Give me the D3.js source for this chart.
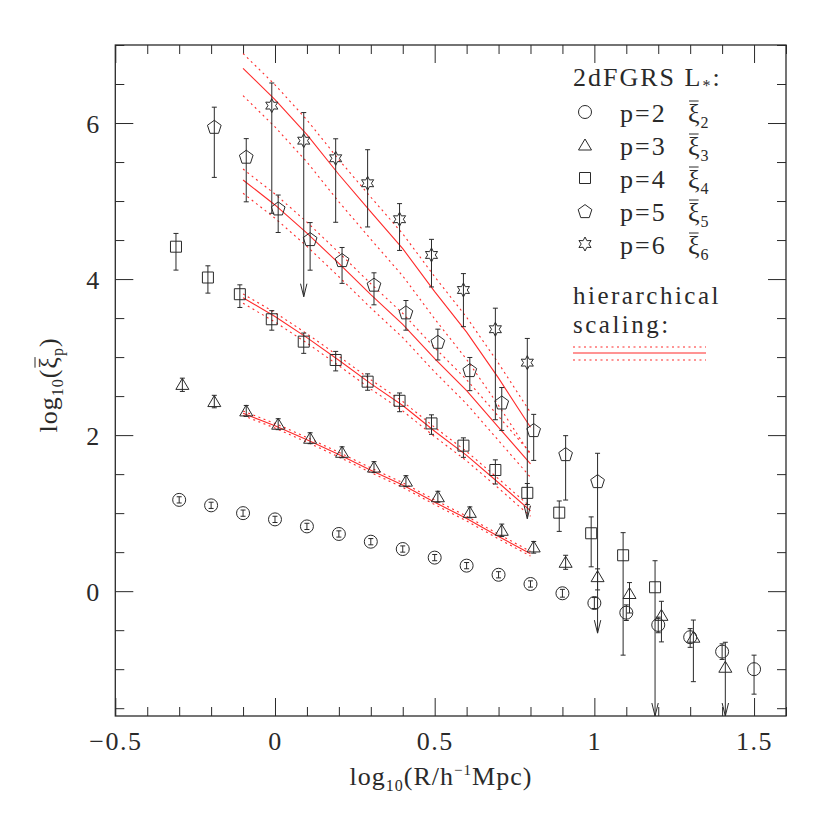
<!DOCTYPE html>
<html><head><meta charset="utf-8">
<script src="https://cdn.jsdelivr.net/npm/d3@7"></script>
<style>body{margin:0;background:#fff}</style>
</head><body><svg id="c" width="830" height="830"></svg>
<script>
// ---------------- data ----------------
const p2X  = [-0.3,-0.2,-0.1,0.0,0.1,0.2,0.3,0.4,0.5,0.6,0.7,0.8,0.9,1.0,1.1,1.2,1.3,1.4,1.5];
const p2Y  = [1.17,1.10,1.00,0.92,0.83,0.733,0.634,0.54,0.43,0.327,0.21,0.092,-0.027,-0.152,-0.276,-0.433,-0.59,-0.775,-1.0];
const p2Hi = [0.04,0.04,0.04,0.04,0.04,0.04,0.04,0.04,0.04,0.04,0.04,0.04,0.05,0.07,0.10,0.10,0.11,0.10,0.18];
const p2Lo = [0.04,0.04,0.04,0.04,0.04,0.04,0.04,0.04,0.04,0.04,0.04,0.04,0.05,0.07,0.10,0.10,0.13,0.10,0.32];
const p2Arrow = [0,0,0,0,0,0,0,0,0,0,0,0,0,0,0,0,0,0,0];

const p3X  = [-0.29,-0.19,-0.09,0.01,0.11,0.21,0.31,0.41,0.51,0.61,0.71,0.81,0.91,1.01,1.11,1.21,1.31,1.41];
const p3Y  = [2.65,2.43,2.31,2.14,1.96,1.78,1.59,1.41,1.21,1.01,0.78,0.567,0.37,0.186,-0.03,-0.31,-0.59,-0.975];
const p3Hi = [0.08,0.08,0.07,0.07,0.07,0.07,0.07,0.07,0.07,0.07,0.08,0.07,0.09,0.10,0.14,0.18,0.22,0.32];
const p3Lo = [0.09,0.08,0.07,0.07,0.07,0.07,0.07,0.07,0.07,0.07,0.08,0.08,0.09,0.17,0.25,0.34,0.57,0.625];
const p3Arrow = [0,0,0,0,0,0,0,0,0,0,0,0,0,0,0,0,0,1];

const p4X  = [-0.31,-0.21,-0.11,-0.01,0.09,0.19,0.29,0.39,0.49,0.59,0.69,0.79,0.89,0.99,1.09,1.19];
const p4Y  = [4.415,4.02,3.806,3.485,3.198,2.963,2.685,2.44,2.15,1.865,1.553,1.26,1.006,0.742,0.46,0.05];
const p4Hi = [0.17,0.15,0.12,0.11,0.11,0.11,0.10,0.10,0.11,0.10,0.13,0.12,0.15,0.21,0.29,0.34];
const p4Lo = [0.30,0.20,0.17,0.14,0.15,0.14,0.11,0.14,0.14,0.15,0.18,0.15,0.24,0.43,1.28,1.65];
const p4Arrow = [0,0,0,0,0,0,0,0,0,0,0,0,0,0,0,1];

const p5X  = [-0.19,-0.09,0.01,0.11,0.21,0.31,0.41,0.51,0.61,0.71,0.81,0.91,1.01];
const p5Y  = [5.953,5.57,4.907,4.514,4.245,3.93,3.575,3.198,2.835,2.42,2.066,1.758,1.412];
const p5Hi = [0.25,0.23,0.17,0.21,0.16,0.15,0.15,0.16,0.16,0.19,0.20,0.235,0.355];
const p5Lo = [0.65,0.58,0.31,0.40,0.30,0.26,0.23,0.235,0.265,0.36,0.39,0.59,1.95];
const p5Arrow = [0,0,0,0,0,0,0,0,0,0,0,0,1];

const p6X  = [-0.01,0.09,0.19,0.29,0.39,0.49,0.59,0.69,0.79];
const p6Y  = [6.223,5.774,5.548,5.228,4.767,4.309,3.86,3.357,2.929];
const p6Hi = [0.29,0.36,0.25,0.43,0.20,0.20,0.21,0.27,0.31];
const p6Lo = [1.38,2.0,0.82,0.56,0.40,0.41,0.47,1.16,2.0];
const p6Arrow = [0,1,0,0,0,0,0,0,1];

// hierarchical scaling model curves
const modelX  = [-0.1,0.0,0.1,0.2,0.3,0.4,0.5,0.6,0.7,0.8];
const model3  = [2.28,2.12,1.94,1.75,1.55,1.36,1.14,0.93,0.70,0.48];
const model4  = [3.76,3.52,3.25,2.96,2.66,2.38,2.05,1.74,1.39,1.03];
const model5  = [5.27,4.95,4.59,4.20,3.80,3.42,2.98,2.57,2.10,1.63];
const model6  = [6.70,6.30,5.85,5.34,4.86,4.39,3.84,3.32,2.73,2.10];
const bandUp   = [0.03,0.05,0.14,0.19];
const bandDown = [0.03,0.07,0.17,0.35];

const xMajor = [-0.5,0,0.5,1,1.5];
const xMajorLabels = ["\u22120.5","0","0.5","1","1.5"];
const yMajor = [0,2,4,6];
const yMajorLabels = ["0","2","4","6"];

const legendP = ["2","3","4","5","6"];

// ---------------- drawing ----------------
const svg = d3.select("#c");
const L = 115.3, R = 786, T = 45, B = 716;
const x = d3.scaleLinear().domain([-0.5,1.6]).range([L,R]);
const y = d3.scaleLinear().domain([-1.6,7]).range([B,T]);
const ink = "#2a2a2a";
const FONT = "Liberation Serif, DejaVu Serif, serif";

const xMinor = d3.range(-0.5,1.6001,0.1).filter(v => !xMajor.some(m => Math.abs(m-v)<1e-6));
const yMinor = d3.range(-1.5,7.0001,0.5).filter(v => !yMajor.some(m => Math.abs(m-v)<1e-6));

function tickAxis(axisFn, scale, vals, size, transform){
  const g = svg.append("g").attr("transform", transform)
    .call(axisFn(scale).tickValues(vals).tickSize(size).tickFormat(""));
  g.select(".domain").remove();
  g.selectAll("line").attr("stroke", ink).attr("stroke-width",1);
  return g;
}
tickAxis(d3.axisTop, x, xMajor, 18, `translate(0,${B})`);
tickAxis(d3.axisTop, x, xMinor, 9, `translate(0,${B})`);
tickAxis(d3.axisBottom, x, xMajor, 18, `translate(0,${T})`);
tickAxis(d3.axisBottom, x, xMinor, 9, `translate(0,${T})`);
tickAxis(d3.axisRight, y, yMajor, 18, `translate(${L},0)`);
tickAxis(d3.axisRight, y, yMinor, 9, `translate(${L},0)`);
tickAxis(d3.axisLeft, y, yMajor, 18, `translate(${R},0)`);
tickAxis(d3.axisLeft, y, yMinor, 9, `translate(${R},0)`);

svg.append("rect").attr("x",L).attr("y",T).attr("width",R-L).attr("height",B-T)
  .attr("fill","none").attr("stroke",ink).attr("stroke-width",1.3);

const gxl = svg.append("g").attr("transform",`translate(0,${B})`)
  .call(d3.axisBottom(x).tickValues(xMajor).tickSize(0).tickPadding(0)
        .tickFormat((d,i)=>xMajorLabels[i]));
gxl.select(".domain").remove();
gxl.selectAll("text").attr("font-family",FONT).attr("font-size",26)
  .attr("fill",ink).attr("dy",null).attr("y",34).attr("letter-spacing",1.5);

const gyl = svg.append("g").attr("transform",`translate(${L},0)`)
  .call(d3.axisLeft(y).tickValues(yMajor).tickSize(0).tickPadding(0)
        .tickFormat((d,i)=>yMajorLabels[i]));
gyl.select(".domain").remove();
gyl.selectAll("text").attr("font-family",FONT).attr("font-size",26)
  .attr("fill",ink).attr("dy",null).attr("x",-16).attr("y",9);

const xt = svg.append("text").attr("x",441).attr("y",785).attr("text-anchor","middle")
  .attr("font-family",FONT).attr("font-size",26).attr("fill",ink).attr("letter-spacing",1);
xt.append("tspan").text("log");
xt.append("tspan").attr("font-size",16).attr("dy",6).text("10");
xt.append("tspan").attr("dy",-6).text("(R/h");
xt.append("tspan").attr("font-size",15).attr("dy",-10).text("\u22121");
xt.append("tspan").attr("dy",10).text("Mpc)");

const yg = svg.append("g").attr("transform","translate(57,385) rotate(-90)");
const yt = yg.append("text").attr("x",0).attr("y",0).attr("text-anchor","middle")
  .attr("font-family",FONT).attr("font-size",26).attr("fill",ink).attr("letter-spacing",1);
yt.append("tspan").text("log");
yt.append("tspan").attr("font-size",16).attr("dy",6).text("10");
yt.append("tspan").attr("dy",-6).text("(");
yt.append("tspan").text("\u03BE");
yt.append("tspan").attr("font-size",16).attr("dy",6).text("p");
yt.append("tspan").attr("dy",-6).text(")");
{
  const ext = yt.node().getExtentOfChar(6);
  yg.append("line").attr("x1",ext.x+1).attr("x2",ext.x+ext.width-1)
    .attr("y1",ext.y+1).attr("y2",ext.y+1).attr("stroke",ink).attr("stroke-width",1);
}

function symPath(type){
  const p = d3.path();
  if(type==="circle"){ p.arc(0,0,6.5,0,2*Math.PI); p.closePath(); }
  else if(type==="triangle"){ p.moveTo(0,-6); p.lineTo(6.5,5); p.lineTo(-6.5,5); p.closePath(); }
  else if(type==="square"){ p.rect(-5.5,-5.5,11,11); }
  else if(type==="pentagon"){
    for(let k=0;k<5;k++){ const a=-Math.PI/2+k*2*Math.PI/5; const px=7.2*Math.cos(a), py=7.2*Math.sin(a)+0.8;
      k===0?p.moveTo(px,py):p.lineTo(px,py);} p.closePath(); }
  else if(type==="star"){
    for(let k=0;k<12;k++){ const a=-Math.PI/2+k*Math.PI/6; const r=k%2===0?7:3.8;
      const px=r*Math.cos(a), py=r*Math.sin(a); k===0?p.moveTo(px,py):p.lineTo(px,py);} p.closePath(); }
  return p.toString();
}

const red = "#ff2a2a";
const models = [model3, model4, model5, model6];
const line = d3.line().x(d=>x(d[0])).y(d=>y(d[1]));
const gm = svg.append("g");
models.forEach((m,i)=>{
  const c = modelX.map((xx,j)=>[xx,m[j]]);
  const up = modelX.map((xx,j)=>[xx,m[j]+bandUp[i]]);
  const dn = modelX.map((xx,j)=>[xx,m[j]-bandDown[i]]);
  gm.append("path").attr("d",line(c)).attr("fill","none").attr("stroke",red).attr("stroke-width",1.1);
  [up,dn].forEach(pts=>gm.append("path").attr("d",line(pts)).attr("fill","none")
    .attr("stroke",red).attr("stroke-width",1.1).attr("stroke-dasharray","2,3.5"));
});

const series = [
  {X:p2X,Y:p2Y,Hi:p2Hi,Lo:p2Lo,A:p2Arrow,sym:"circle"},
  {X:p3X,Y:p3Y,Hi:p3Hi,Lo:p3Lo,A:p3Arrow,sym:"triangle"},
  {X:p4X,Y:p4Y,Hi:p4Hi,Lo:p4Lo,A:p4Arrow,sym:"square"},
  {X:p5X,Y:p5Y,Hi:p5Hi,Lo:p5Lo,A:p5Arrow,sym:"pentagon"},
  {X:p6X,Y:p6Y,Hi:p6Hi,Lo:p6Lo,A:p6Arrow,sym:"star"}
];
const gd = svg.append("g").attr("stroke",ink).attr("stroke-width",1).attr("fill","none");
series.forEach(s=>{
  s.X.forEach((xx,i)=>{
    const cx = x(xx), cy = y(s.Y[i]);
    const yt = y(s.Y[i]+s.Hi[i]), yb = y(s.Y[i]-s.Lo[i]);
    gd.append("line").attr("x1",cx).attr("x2",cx).attr("y1",yt).attr("y2",yb);
    gd.append("line").attr("x1",cx-2.5).attr("x2",cx+2.5).attr("y1",yt).attr("y2",yt);
    if(s.A[i]){
      gd.append("path").attr("d",`M${cx-3.2},${yb-13}L${cx},${yb}L${cx+3.2},${yb-13}`);
    } else {
      gd.append("line").attr("x1",cx-2.5).attr("x2",cx+2.5).attr("y1",yb).attr("y2",yb);
    }
    gd.append("path").attr("d",symPath(s.sym)).attr("transform",`translate(${cx},${cy})`);
  });
});

const lg = svg.append("g").attr("font-family",FONT).attr("fill",ink);
const lt = lg.append("text").attr("x",573).attr("y",86).attr("font-size",26).attr("letter-spacing",2);
lt.append("tspan").text("2dFGRS L");
lt.append("tspan").attr("font-size",16).attr("dy",5).text("*");
lt.append("tspan").attr("dy",-5).text(":");
const syms = ["circle","triangle","square","pentagon","star"];
legendP.forEach((p,i)=>{
  const yy = 112 + i*33;
  lg.append("path").attr("d",symPath(syms[i])).attr("transform",`translate(585,${yy})`)
    .attr("fill","none").attr("stroke",ink).attr("stroke-width",1);
  lg.append("text").attr("x",620).attr("y",yy+10).attr("font-size",26).attr("letter-spacing",2)
    .text("p=" + p);
  const xi = lg.append("text").attr("x",688).attr("y",yy+10).attr("font-size",26).text("\u03BE");
  const bb = xi.node().getBBox();
  lg.append("line").attr("x1",bb.x+1).attr("x2",bb.x+bb.width-1).attr("y1",bb.y+2).attr("y2",bb.y+2)
    .attr("stroke",ink).attr("stroke-width",1);
  lg.append("text").attr("x",bb.x+bb.width+1).attr("y",yy+16).attr("font-size",16).text(p);
});
lg.append("text").attr("x",573).attr("y",304).attr("font-size",25).attr("letter-spacing",2.5).text("hierarchical");
lg.append("text").attr("x",573).attr("y",333).attr("font-size",25).attr("letter-spacing",2.5).text("scaling:");
[[347,true],[353,false],[360,true]].forEach(([yy,dot])=>{
  const l = lg.append("line").attr("x1",573).attr("x2",706).attr("y1",yy).attr("y2",yy)
    .attr("stroke",red).attr("stroke-width",1.1);
  if(dot) l.attr("stroke-dasharray","2,3.5");
});
</script>
</body></html>
